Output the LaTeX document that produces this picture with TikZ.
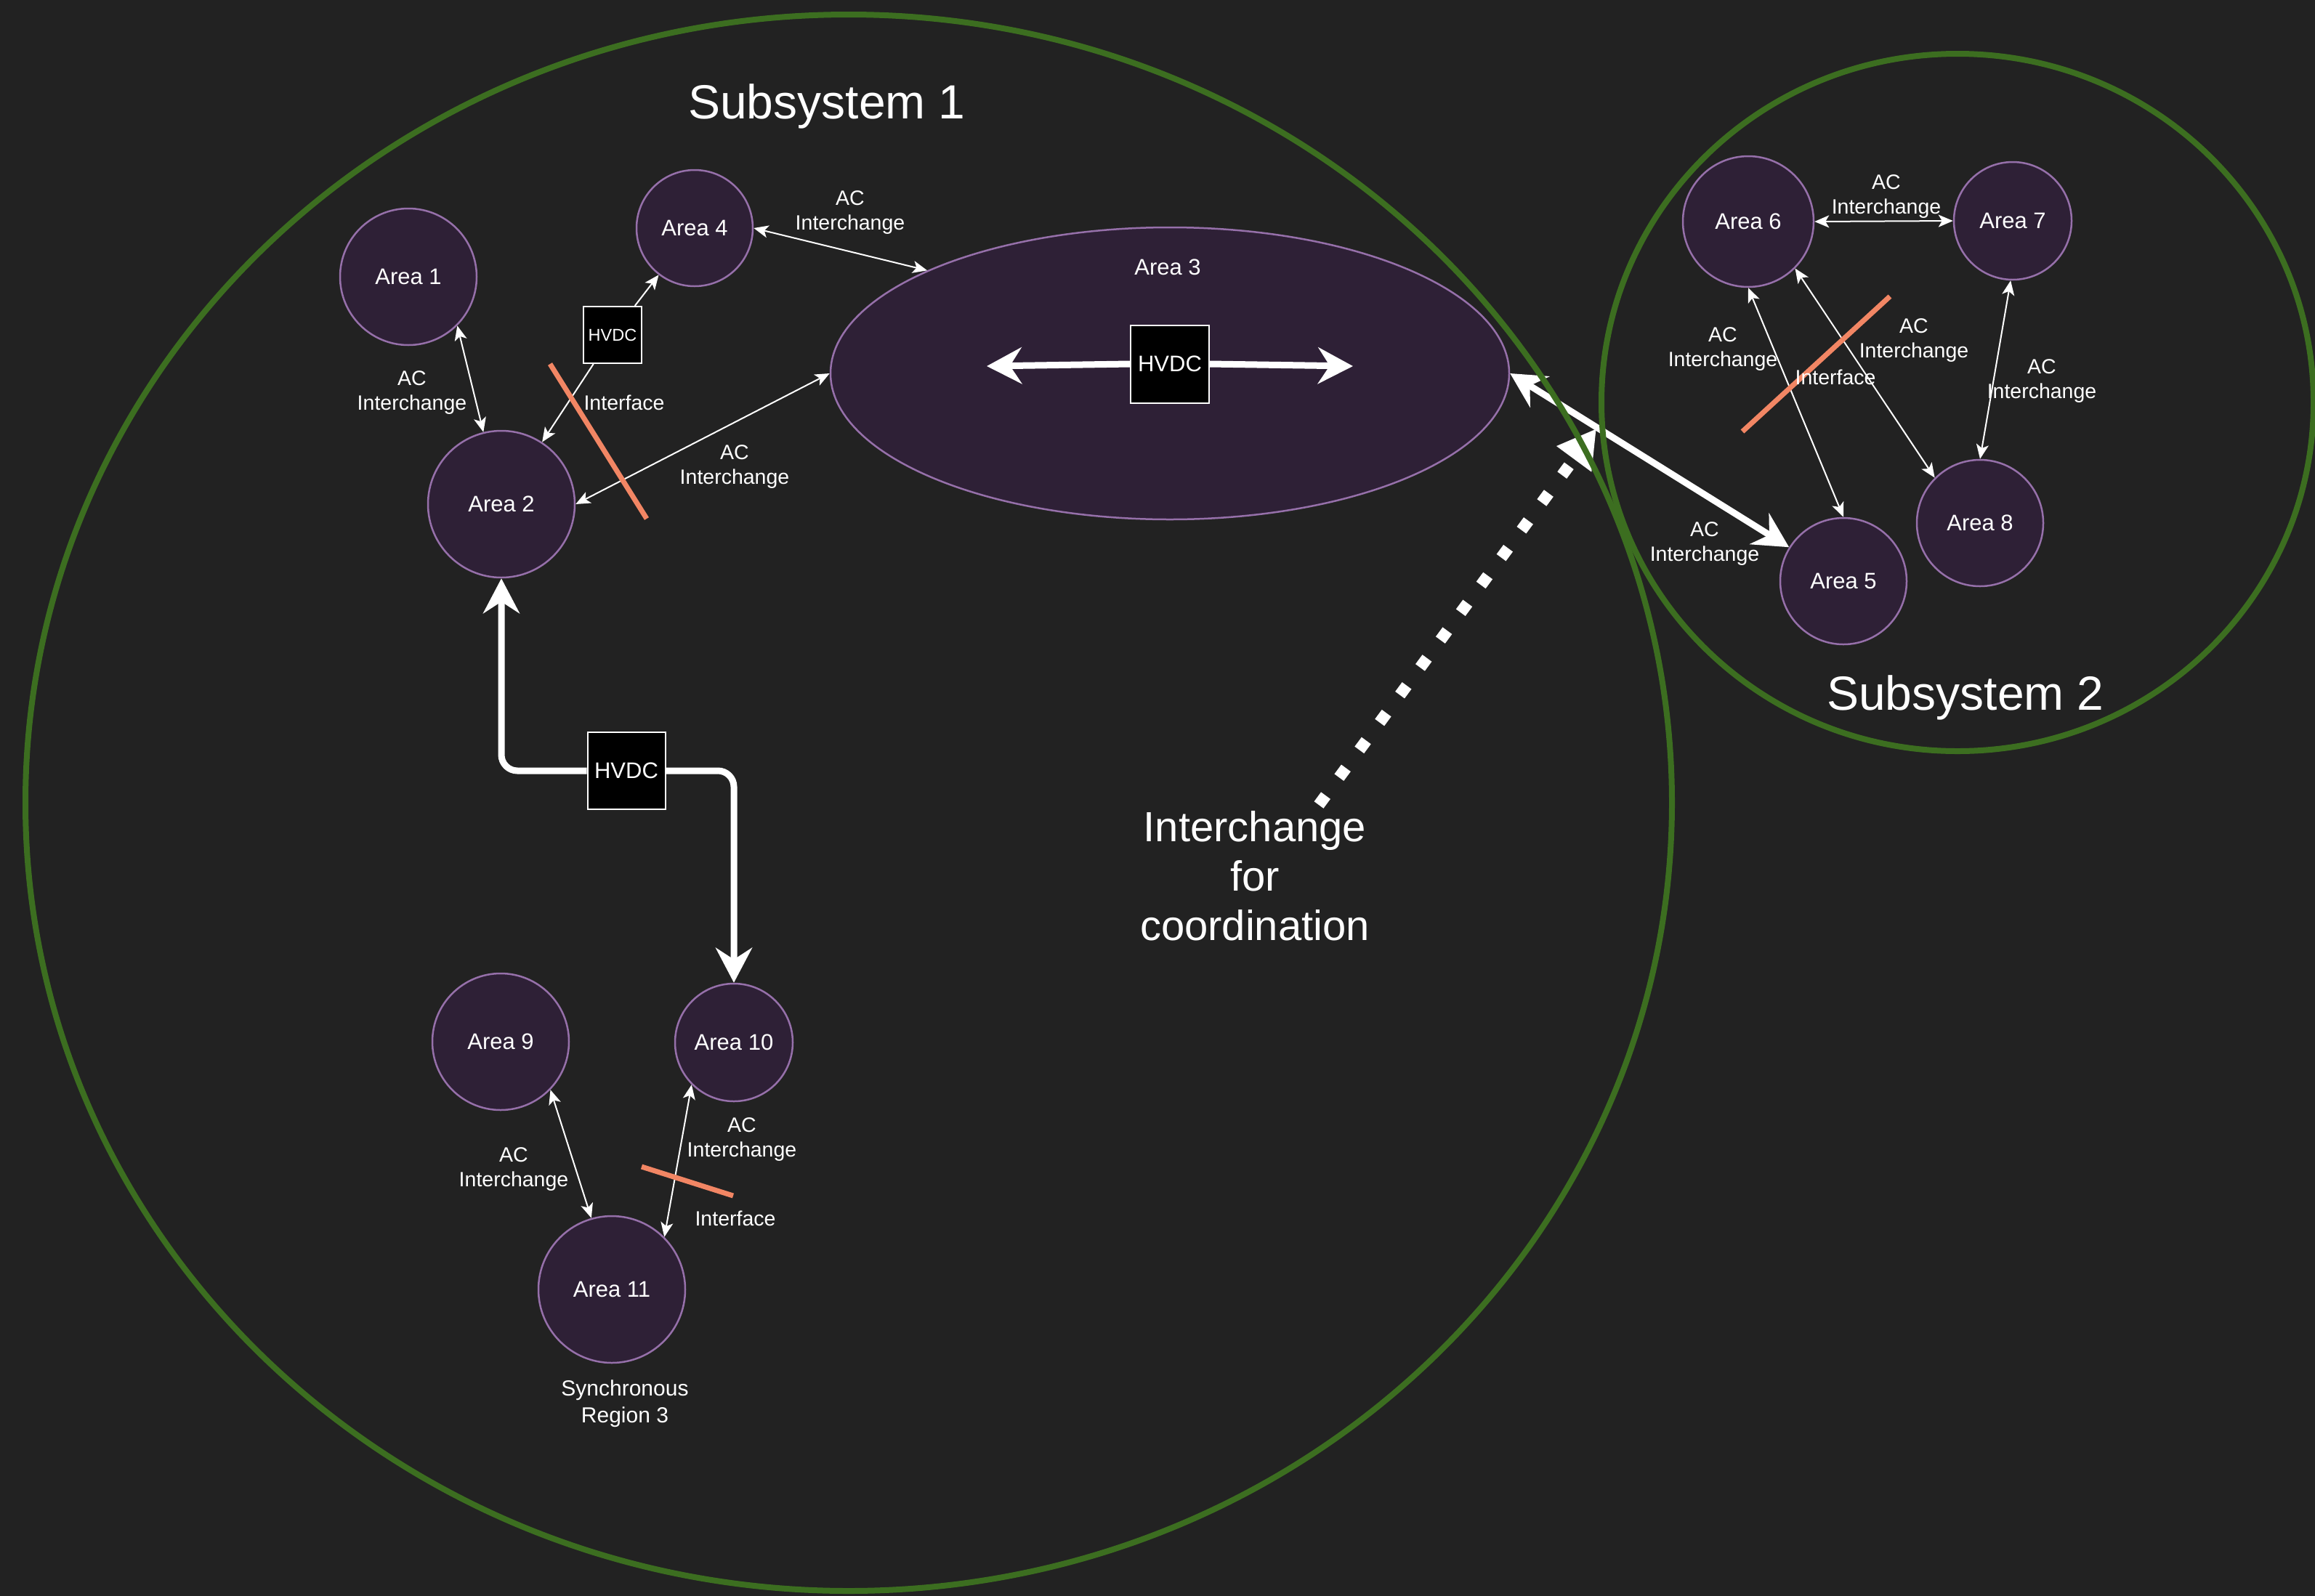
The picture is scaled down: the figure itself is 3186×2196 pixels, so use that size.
\documentclass[tikz,border=0pt]{standalone}
\usepackage{fontspec}
\setmainfont{Liberation Sans}
\usetikzlibrary{arrows.meta,shapes.geometric}

\definecolor{bgdark}{RGB}{34,34,34}
\definecolor{areafill}{RGB}{46,32,54}
\definecolor{areastroke}{RGB}{150,112,170}
\definecolor{subgreen}{RGB}{60,110,32}
\definecolor{ifaceorange}{RGB}{242,134,100}

\tikzset{
  ThinHead/.tip={Stealth[length=20pt,width=17pt,inset=5pt]},
  BigHead/.tip={Stealth[length=48pt,width=50pt,inset=16pt]},
  DotHead/.tip={Triangle[length=52pt,width=56pt]},
}

\begin{document}
\begin{tikzpicture}[x=1pt,y=-1pt,
  area/.style={circle, draw=areastroke, fill=areafill, line width=2.5pt,
    text=white, inner sep=0pt, font=\fontsize{31}{37}\selectfont},
  areaoval/.style={ellipse, draw=areastroke, fill=areafill, line width=2.5pt, inner sep=0pt},
  subsys/.style={ellipse, draw=subgreen, line width=8pt, inner sep=0pt},
  hvdcbox/.style={draw=white, fill=black, text=white, line width=2pt, inner sep=0pt,
    minimum width=107pt, minimum height=106pt, font=\fontsize{31}{37}\selectfont},
  hvdcsmall/.style={draw=white, fill=black, text=white, line width=2pt, inner sep=0pt,
    minimum width=80pt, minimum height=78pt, font=\fontsize{23.5}{28}\selectfont},
  lbl/.style={text=white, align=center, inner sep=0pt, font=\fontsize{28.5}{34}\selectfont},
  title/.style={text=white, inner sep=0pt, anchor=base, font=\fontsize{66}{78}\selectfont},
  acline/.style={draw=white, line width=2pt},
  bigline/.style={draw=white, line width=9pt},
  iface/.style={draw=ifaceorange, line width=7pt},
]

% canvas: fixed frame, background bleeding past it
\useasboundingbox (0,0) rectangle (3186,2196);
\fill[bgdark] (-30,-30) rectangle (3216,2226);

% areas of subsystem 1
\node[area, minimum size=188pt] (a1) at (562,381) {Area 1};
\node[area, minimum size=202pt] (a2) at (690,694) {Area 2};
\node[area, minimum size=160pt] (a4) at (956,314) {Area 4};
\node[areaoval, minimum width=934pt, minimum height=402pt] (a3) at (1610,514) {};
\node[lbl, font=\fontsize{31}{37}\selectfont] (a3lbl) at (1607,368) {Area 3};

% areas of subsystem 2
\node[area, minimum size=180pt] (a6) at (2406,305) {Area 6};
\node[area, minimum size=162pt] (a7) at (2770,304) {Area 7};
\node[area, minimum size=174pt] (a8) at (2725,720) {Area 8};
\node[area, minimum size=174pt] (a5) at (2537,800) {Area 5};

% synchronous region 3
\node[area, minimum size=188pt] (a9) at (689,1434) {Area 9};
\node[area, minimum size=162pt] (a10) at (1010,1435) {Area 10};
\node[area, minimum size=202pt] (a11) at (842,1775) {Area 11};

% HVDC converters
\node[hvdcsmall] (hvA) at (843,461) {HVDC};
\node[hvdcbox, minimum width=108pt, minimum height=107pt] (hvB) at (1610,501) {HVDC};
\node[hvdcbox] (hvC) at (862,1061) {HVDC};

% AC interchanges
\draw[acline, ThinHead-ThinHead] (a1.-45.8) -- (a2.104.4);
\draw[acline, ThinHead-ThinHead] (a4.east) -- (a3.157.2);
\draw[acline, ThinHead-ThinHead] (a2.east) -- (a3.west);
\draw[acline, -ThinHead] (hvA) -- (a4);
\draw[acline, -ThinHead] (hvA) -- (a2);
\draw[acline, ThinHead-ThinHead] (a6.east) -- (a7.west);
\draw[acline, ThinHead-ThinHead] (a6.south) -- (a5.north);
\draw[acline, ThinHead-ThinHead] (a6.-45) -- (a8.135);
\draw[acline, ThinHead-ThinHead] (a7.-92) -- (a8.north);
\draw[acline, ThinHead-ThinHead] (a9.-44.6) -- (a11.106);
\draw[acline, ThinHead-ThinHead] (a10.-135) -- (a11.45.8);

% HVDC links
\draw[bigline, BigHead-, rounded corners=22pt] (a2.south) |- (hvC.west);
\draw[bigline, -BigHead, rounded corners=22pt] (hvC.east) -| (a10.north);
\coordinate (hvBl) at (1358,504);
\coordinate (hvBr) at (1862,504);
\draw[bigline, -BigHead] (hvB.west) -- (hvBl);
\draw[bigline, -BigHead] (hvB.east) -- (hvBr);
\draw[bigline, BigHead-BigHead] (a3.east) -- (a5.148.5);

% interfaces
\draw[iface] (757,501) -- (890,714);
\draw[iface] (2601,408) -- (2398,594);
\draw[iface] (883,1606) -- (1009,1646);

% labels
\node[lbl] (l12) at (567,540) {AC\\Interchange};
\node[lbl] (l23) at (1011,642) {AC\\Interchange};
\node[lbl] (l43) at (1170,292) {AC\\Interchange};
\node[lbl] (if1) at (859,554) {Interface};
\node[lbl] (l67) at (2596,270) {AC\\Interchange};
\node[lbl] (l65) at (2371,480) {AC\\Interchange};
\node[lbl] (l68) at (2634,468) {AC\\Interchange};
\node[lbl] (l78) at (2810,524) {AC\\Interchange};
\node[lbl] (if2) at (2526,519) {Interface};
\node[lbl] (l35) at (2346,748) {AC\\Interchange};
\node[lbl] (l911) at (707,1609) {AC\\Interchange};
\node[lbl] (l1011) at (1021,1568) {AC\\Interchange};
\node[lbl] (if3) at (1012,1677) {Interface};
\node[lbl, font=\fontsize{30}{37}\selectfont] (sync) at (860,1932) {Synchronous\\Region 3};

% coordination interchange
\node[lbl, font=\fontsize{58}{68}\selectfont] (coord) at (1727,1206) {Interchange\\for\\coordination};
\coordinate (dotstart) at (1815,1108);
\coordinate (dotend) at (2197,590);
\draw[white, line width=16pt, dash pattern=on 16pt off 31pt, -DotHead] (dotstart) -- (dotend);

% subsystems
\node[subsys, minimum width=2266pt, minimum height=2170pt] (sub1) at (1168,1105) {};
\node[subsys, minimum width=980pt, minimum height=960pt] (sub2) at (2694,554) {};
\node[title] (t1) at (1138,163) {Subsystem 1};
\node[title] (t2) at (2705,977) {Subsystem 2};

\end{tikzpicture}
\end{document}
